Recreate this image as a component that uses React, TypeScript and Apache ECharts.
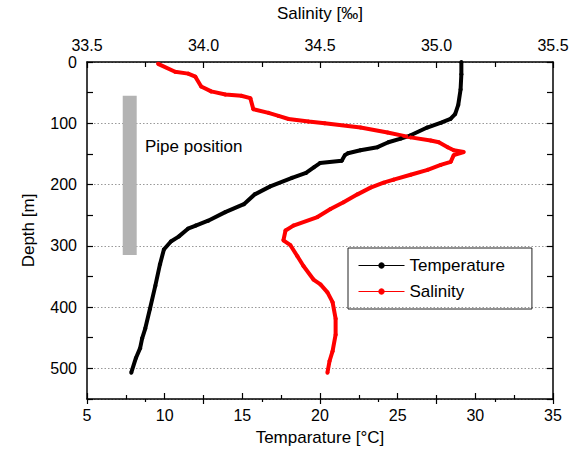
import React, { useEffect, useRef } from "react";
import * as echarts from "echarts";

// Temperature profile (depth in m, temperature in °C)
const tempDepth = [0, 20, 45, 70, 85, 93, 99, 107, 120, 125, 131, 139, 144, 149, 152, 161, 165, 172, 181, 189, 203, 216, 232, 245, 259, 267, 272, 285, 293, 306, 330, 365, 403, 435, 451, 467, 483, 507];
const tempValues = [29.1, 29.1, 29.05, 28.9, 28.7, 28.4, 27.8, 26.9, 25.8, 25.2, 24.4, 23.7, 22.6, 21.8, 21.6, 21.4, 20.0, 19.6, 19.1, 18.2, 16.8, 15.8, 15.1, 13.9, 12.8, 12.0, 11.5, 10.9, 10.4, 9.95, 9.7, 9.4, 9.05, 8.75, 8.55, 8.42, 8.15, 7.85];

// Salinity profile (depth in m, salinity in ‰)
const salDepth = [3, 16, 19, 24, 40, 48, 53, 55, 59, 77, 83, 88, 93, 97, 100, 107, 115, 123, 128, 131, 139, 144, 147, 152, 163, 168, 176, 184, 192, 197, 205, 216, 229, 240, 253, 267, 275, 291, 299, 317, 333, 355, 363, 376, 392, 419, 445, 472, 488, 507];
const salValues = [33.805, 33.878, 33.934, 33.965, 33.99, 34.033, 34.094, 34.162, 34.201, 34.214, 34.279, 34.322, 34.365, 34.451, 34.52, 34.674, 34.79, 34.889, 34.975, 35.01, 35.048, 35.074, 35.117, 35.074, 35.061, 35.018, 34.962, 34.889, 34.816, 34.773, 34.717, 34.661, 34.601, 34.545, 34.489, 34.386, 34.352, 34.343, 34.373, 34.403, 34.429, 34.472, 34.502, 34.532, 34.554, 34.567, 34.567, 34.554, 34.541, 34.532];

// Pipe position (temperature-axis extent, depth extent)
const pipeTemp = [7.3, 8.2];
const pipeDepth = [55, 315];

const FONT = "'Liberation Sans', Arial, sans-serif";
const axisLineStyle = { color: "#000", width: 1.5 };

export default function App() {
  const ref = useRef<HTMLDivElement>(null);
  useEffect(() => {
    if (!ref.current) return;
    const chart = echarts.init(ref.current, undefined, { renderer: "svg" });
    const tickStyle = { color: "#000", width: 1.2 };
    chart.setOption({
      animation: false,
      textStyle: { fontFamily: FONT },
      grid: { left: 87, right: 28, top: 56, bottom: 55 },
      legend: {
        data: ["Temperature", "Salinity"],
        orient: "vertical",
        left: 348,
        top: 248,
        itemWidth: 46,
        itemHeight: 8,
        itemGap: 9,
        padding: [9, 27, 9, 10],
        borderColor: "#222",
        borderWidth: 1,
        textStyle: { fontSize: 17, color: "#000", fontFamily: FONT },
        lineStyle: { width: 1 },
      },
      xAxis: [
        {
          type: "value",
          position: "bottom",
          min: 5,
          max: 35,
          interval: 5,
          name: "Temparature [°C]",
          nameLocation: "middle",
          nameGap: 30,
          nameTextStyle: { fontSize: 17, color: "#000", fontFamily: FONT },
          axisLine: { show: true, onZero: false, lineStyle: axisLineStyle },
          axisTick: { inside: true, length: 6, lineStyle: tickStyle },
          minorTick: { show: true, splitNumber: 2, length: 4, lineStyle: tickStyle },
          axisLabel: { fontSize: 16, color: "#000", margin: 8, fontFamily: FONT },
          splitLine: { show: false },
        },
        {
          type: "value",
          position: "top",
          min: 33.5,
          max: 35.5,
          interval: 0.5,
          name: "Salinity [‰]",
          nameLocation: "middle",
          nameGap: 40,
          nameTextStyle: { fontSize: 17, color: "#000", fontFamily: FONT },
          axisLine: { show: true, onZero: false, lineStyle: axisLineStyle },
          axisTick: { inside: true, length: 6, lineStyle: tickStyle },
          minorTick: { show: true, splitNumber: 2, length: 5, lineStyle: tickStyle },
          axisLabel: { fontSize: 16, color: "#000", margin: 9, fontFamily: FONT, formatter: (v: number) => v.toFixed(1) },
          splitLine: { show: false },
        },
        {
          type: "value",
          position: "bottom",
          min: 33.5,
          max: 35.5,
          interval: 0.5,
          axisLine: { show: false, onZero: false },
          axisTick: { show: true, inside: false, length: 5, lineStyle: tickStyle },
          minorTick: { show: true, splitNumber: 2, length: 3, lineStyle: tickStyle },
          axisLabel: { show: false },
          splitLine: { show: false },
        },
      ],
      yAxis: [
        {
          type: "value",
          inverse: true,
          min: 0,
          max: 550,
          interval: 100,
          name: "Depth [m]",
          nameLocation: "middle",
          nameGap: 50,
          nameRotate: 90,
          nameTextStyle: { fontSize: 17, color: "#000", fontFamily: FONT },
          axisLine: { show: true, onZero: false, lineStyle: axisLineStyle },
          axisTick: { inside: true, length: 6, lineStyle: tickStyle },
          minorTick: { show: true, splitNumber: 2, length: 6, lineStyle: tickStyle },
          axisLabel: { fontSize: 16, color: "#000", margin: 10, fontFamily: FONT, showMaxLabel: false },
          splitLine: { show: true, lineStyle: { color: "#999", width: 1, type: [1.5, 2] } },
        },
        {
          type: "value",
          position: "right",
          inverse: true,
          min: 0,
          max: 550,
          interval: 100,
          axisLine: { show: true, onZero: false, lineStyle: axisLineStyle },
          axisTick: { inside: true, length: 6, lineStyle: tickStyle },
          minorTick: { show: true, splitNumber: 2, length: 6, lineStyle: tickStyle },
          axisLabel: { show: false },
          splitLine: { show: false },
        },
      ],
      graphic: [
        {
          type: "text",
          left: 145,
          top: 138,
          style: { text: "Pipe position", fontSize: 17, fill: "#000", fontFamily: FONT },
        },
      ],
      series: [
        {
          name: "Temperature",
          type: "line",
          xAxisIndex: 0,
          yAxisIndex: 0,
          data: tempDepth.map((d, i) => [tempValues[i], d]),
          symbol: "circle",
          symbolSize: 4,
          lineStyle: { color: "#000", width: 4 },
          itemStyle: { color: "#000" },
          z: 3,
          markArea: {
            silent: true,
            itemStyle: { color: "#b3b3b3", opacity: 1 },
            data: [[{ coord: [pipeTemp[0], pipeDepth[0]] }, { coord: [pipeTemp[1], pipeDepth[1]] }]],
          },
        },
        {
          name: "Salinity",
          type: "line",
          xAxisIndex: 1,
          yAxisIndex: 0,
          data: salDepth.map((d, i) => [salValues[i], d]),
          symbol: "circle",
          symbolSize: 4,
          lineStyle: { color: "#ff0000", width: 4 },
          itemStyle: { color: "#ff0000" },
          z: 3,
        },
      ],
    });
    return () => chart.dispose();
  }, []);
  return (
    <div
      ref={ref}
      style={{ position: "absolute", left: 0, top: 0, width: 581, height: 454, background: "#fff" }}
    />
  );
}
